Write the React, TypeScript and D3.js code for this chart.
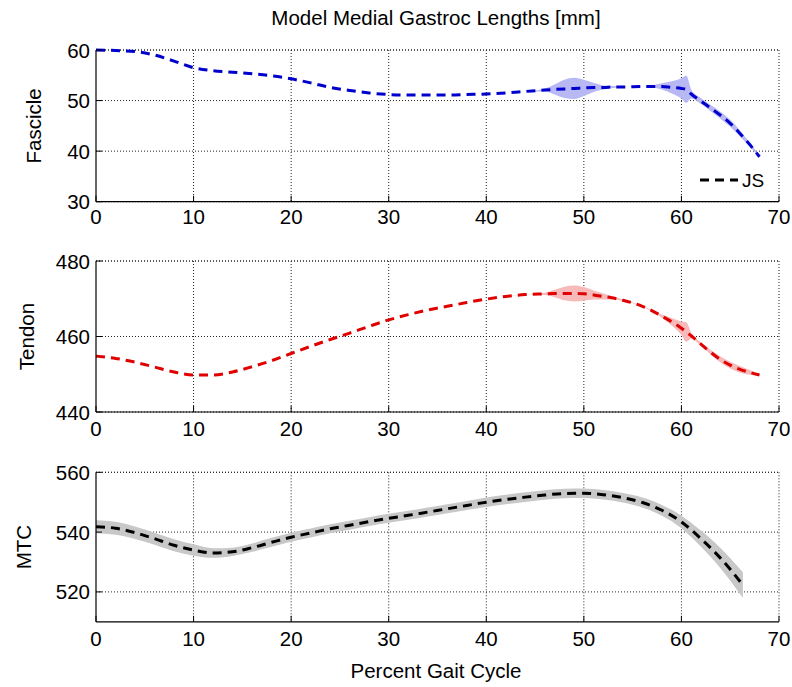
import React from "react";
import * as d3 from "d3";

const title = "Model Medial Gastroc Lengths [mm]";
const xLabel = "Percent Gait Cycle";
const xTicks = [0, 10, 20, 30, 40, 50, 60, 70];

const fascX = [0,2,4,6,8,10,12,14,16,18,20,22,24,26,28,30,32,34,36,38,40,42,44,46,47,48,49,50,51,52,53,54,56,57,58,59,60,60.5,61,62,63,64,65,66,67,68];
const fascY = [60,59.9,59.7,59,57.8,56.5,55.9,55.6,55.3,54.9,54.3,53.5,52.6,52.0,51.5,51.2,51.1,51.1,51.1,51.2,51.3,51.5,51.8,52.1,52.2,52.3,52.4,52.5,52.6,52.6,52.7,52.7,52.8,52.8,52.8,52.6,52.4,52.2,51.3,49.9,48.5,47.1,45.5,43.5,41.3,38.9];
const fascSpread = [0,0,0,0,0,0,0,0,0,0,0,0,0,0,0,0,0,0,0,0,0,0,0,0.3,1.0,1.8,2.1,1.6,0.9,0.4,0.2,0,0,0.2,0.6,1.2,2.0,2.7,0.9,0.6,0.6,0.7,0.7,0.6,0.4,0.2];

const tendX = [0,2,4,6,8,10,12,14,16,18,20,22,24,26,28,30,32,34,36,38,40,42,44,46,47,48,49,50,51,52,53,54,56,58,59,60,60.5,61,62,63,64,65,66,67,68];
const tendY = [454.8,454.2,453.2,451.9,450.6,449.8,449.8,450.6,452.0,453.6,455.5,457.4,459.2,460.9,462.7,464.4,465.8,467.0,468.0,469.0,469.9,470.6,471.1,471.3,471.4,471.4,471.4,471.3,471.0,470.6,470.2,469.6,468.0,465.4,463.9,462.2,461.2,460.2,458.0,455.8,453.9,452.4,451.3,450.5,449.8];
const tendSpread = [0,0,0,0,0,0,0,0,0,0,0,0,0,0,0,0,0,0,0,0,0,0,0,0.3,1.0,1.8,2.1,1.8,1.2,0.8,0.4,0.2,0.1,0.4,1.0,1.8,2.6,0.8,0.5,0.6,0.8,0.9,0.9,0.6,0.2];

const mtcX = [0,2,4,6,8,10,12,14,16,18,20,22,24,26,28,30,32,34,36,38,40,42,44,46,48,50,52,54,56,58,60,62,64,66.3];
const mtcY = [541.8,541.3,539.8,537.8,535.6,534.0,533.0,533.4,534.8,536.6,538.3,539.7,541.1,542.3,543.5,544.6,545.6,546.7,547.8,548.9,550.0,550.9,551.7,552.4,552.9,553.0,552.5,551.5,549.9,547.3,543.4,537.8,531.3,522.3];
const mtcSpread = [2.2,2.2,2.1,2.0,2.0,1.9,1.6,1.4,1.4,1.5,1.5,1.5,1.5,1.5,1.5,1.5,1.5,1.5,1.5,1.5,1.6,1.6,1.6,1.6,1.6,1.6,1.6,1.6,1.7,1.8,2.1,2.7,3.4,4.3];

const panels = [
  { label: "Fascicle", xs: fascX, ys: fascY, sp: fascSpread, domain: [30, 60], yTicks: [30, 40, 50, 60], top: 50, h: 151.7, line: "#0000cc", band: "#b8b8f4", labelX: 33, tickBase: 224 },
  { label: "Tendon", xs: tendX, ys: tendY, sp: tendSpread, domain: [440, 480], yTicks: [440, 460, 480], top: 261, h: 151, line: "#e00000", band: "#f6baba", labelX: 26, tickBase: 436 },
  { label: "MTC", xs: mtcX, ys: mtcY, sp: mtcSpread, domain: [510, 560], yTicks: [520, 540, 560], top: 472.3, h: 149.5, line: "#000000", band: "#c8c8c8", labelX: 23, tickBase: 646 },
];

const FONT = "Liberation Sans, Arial, sans-serif";
const L = 96, R = 779;

export default function App() {
  const x = d3.scaleLinear().domain([0, 70]).range([L, R]);
  return (
    <svg width={792} height={687} style={{ position: "absolute", left: 0, top: 0, background: "#fff" }} fontFamily={FONT}>
      <rect width={792} height={687} fill="#fff" />
      <text x={436} y={25} fontSize={20.5} textAnchor="middle">{title}</text>
      {panels.map((p, pi) => {
        const y = d3.scaleLinear().domain(p.domain).range([p.top + p.h, p.top]);
        const pts = p.xs.map((xv, i) => ({ x: xv, y: p.ys[i], s: p.sp[i] }));
        const area = d3.area<any>().x(d => x(d.x)).y0(d => y(d.y - d.s)).y1(d => y(d.y + d.s)).curve(d3.curveMonotoneX);
        const line = d3.line<any>().x(d => x(d.x)).y(d => y(d.y)).curve(d3.curveMonotoneX);
        const bottom = p.top + p.h;
        return (
          <g key={pi}>
            {xTicks.filter(t => t > 0).map(t => (
              <line key={"gx" + t} x1={x(t)} x2={x(t)} y1={p.top} y2={bottom} stroke="#222" strokeWidth={1} strokeDasharray="1,2" />
            ))}
            {p.yTicks.map(t => (
              <line key={"gy" + t} x1={L} x2={R} y1={y(t)} y2={y(t)} stroke="#222" strokeWidth={1} strokeDasharray="1,2" />
            ))}
            <line x1={L} x2={R} y1={p.top} y2={p.top} stroke="#222" strokeWidth={1} strokeDasharray="1,2" />
            <path d={area(pts) || ""} fill={p.band} stroke="none" />
            <path d={line(pts) || ""} fill="none" stroke={p.line} strokeWidth={3} strokeDasharray="9,6" />
            <line x1={L} x2={L} y1={p.top} y2={bottom} stroke="#000" strokeWidth={1.2} />
            <line x1={L} x2={R} y1={bottom} y2={bottom} stroke="#000" strokeWidth={1.2} />
            {xTicks.map(t => (
              <g key={"xt" + t}>
                <line x1={x(t)} x2={x(t)} y1={bottom} y2={bottom - 6} stroke="#000" strokeWidth={1} />
                <text x={x(t)} y={p.tickBase} fontSize={20.5} textAnchor="middle">{t}</text>
              </g>
            ))}
            {p.yTicks.map(t => (
              <g key={"yt" + t}>
                <line x1={L} x2={L + 6} y1={y(t)} y2={y(t)} stroke="#000" strokeWidth={1} />
                <text x={90} y={y(t) + 7.5} fontSize={20.5} textAnchor="end">{t}</text>
              </g>
            ))}
            <text transform={`translate(${p.labelX + 7.5},${p.top + p.h / 2}) rotate(-90)`} fontSize={20.5} textAnchor="middle">{p.label}</text>
          </g>
        );
      })}
      <line x1={700} x2={738} y1={180} y2={180} stroke="#000" strokeWidth={3} strokeDasharray="9,6" />
      <text x={742} y={187} fontSize={19}>JS</text>
      <text x={436} y={678} fontSize={20.5} textAnchor="middle">{xLabel}</text>
    </svg>
  );
}
